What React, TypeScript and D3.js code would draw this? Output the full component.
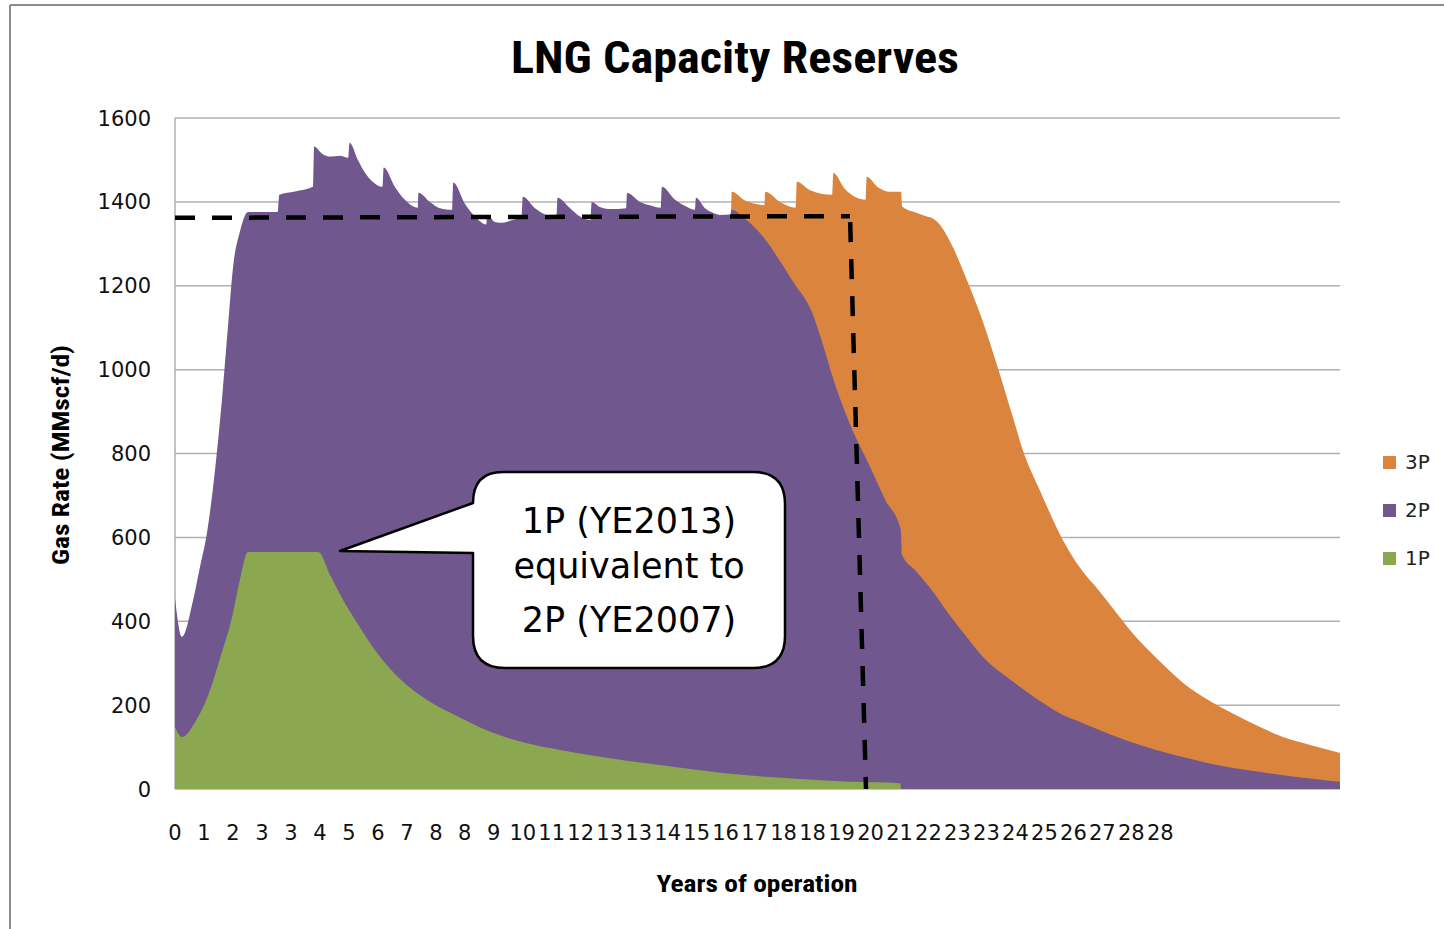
import * as d3 from "d3";

// x in years of operation, y in MMscf/d
const yTicks = [0, 200, 400, 600, 800, 1000, 1200, 1400, 1600];
// category labels, one every 10 months
const xTickLabels = ["0", "1", "2", "3", "3", "4", "5", "6", "7", "8", "8", "9", "10", "11", "12", "13", "13", "14",
  "15", "16", "17", "18", "18", "19", "20", "21", "22", "23", "23", "24", "25", "26", "27", "28", "28"];

const years2P = [0, 0.2, 0.52, 0.72, 0.92, 1.15, 1.35, 1.52, 1.67, 1.87, 2.1, 2.95, 3.0, 3.45, 3.97, 4.0, 4.23, 4.46,
  4.74, 4.98, 5.02, 5.26, 5.46, 5.66, 5.97, 6.0, 6.33, 6.61, 6.98, 7.0, 7.33, 7.62, 7.97, 8.0, 8.34, 8.63, 8.95, 8.98,
  9.2, 9.43, 9.63, 9.97, 10.0, 10.35, 10.64, 10.97, 11.0, 11.36, 11.65, 11.95, 11.98, 12.22, 12.51, 12.97, 13.0, 13.37,
  13.66, 13.97, 14.0, 14.38, 14.67, 14.95, 14.98, 15.24, 15.44, 15.67, 15.97, 16.0, 16.39, 16.82, 17.31, 17.77, 18.35,
  18.63, 18.92, 19.41, 19.99, 20.42, 20.87, 20.9, 21.28, 21.8, 22.29, 22.77, 23.29, 23.92, 24.44, 24.96, 25.45, 26.11,
  26.6, 27.09, 27.75, 28.53, 29.19, 29.96, 30.91, 31.86, 32.64, 33.5];
const rate2P = [455, 363, 450, 530, 611, 760, 928, 1100, 1245, 1330, 1376, 1376, 1417, 1425, 1436, 1532, 1515, 1508,
  1510, 1505, 1541, 1500, 1470, 1450, 1436, 1482, 1435, 1405, 1386, 1422, 1400, 1385, 1381, 1446, 1395, 1365, 1346, 1370,
  1352, 1350, 1355, 1365, 1412, 1385, 1370, 1362, 1410, 1385, 1365, 1357, 1400, 1388, 1383, 1385, 1421, 1400,
  1392, 1386, 1436, 1405, 1390, 1381, 1410, 1385, 1375, 1369, 1370, 1381, 1360, 1326, 1270, 1210, 1130,
  1060, 980, 870, 768, 690, 618, 560, 522, 470, 413, 362, 310, 267, 235, 205, 180, 157,
  140, 124, 105, 86, 72, 57, 44, 33, 25, 17];

const years3P = [15.99, 16.01, 16.39, 16.82, 16.95, 16.97, 17.4, 17.85, 17.88, 18.26, 18.9, 18.93, 19.27, 19.86, 19.89,
  20.21, 20.56, 20.88, 20.91, 21.28, 21.62, 21.8, 22.0, 22.29, 22.77, 23.23, 23.64, 24.1, 24.38, 24.87, 25.53, 26.02,
  26.6, 27.09, 27.55, 28.27, 28.99, 29.7, 30.42, 31.14, 31.86, 32.64, 33.5];
const rate3P = [1370, 1424, 1403, 1393, 1392, 1424, 1400, 1386, 1448, 1428, 1417, 1469, 1430, 1405, 1460,
  1435, 1424, 1424, 1389, 1375, 1365, 1360, 1345, 1305, 1214, 1115, 1010, 885, 808, 712, 594, 528,
  470, 418, 370, 308, 253, 213, 180, 150, 124, 105, 86];

const years1P = [0, 0.2, 0.58, 1.01, 1.29, 1.64, 1.87, 2.1, 4.12, 4.46, 4.83, 5.32, 5.81, 6.47, 7.25, 8.2, 9.14, 10.06,
  11.07, 12.22, 13.66, 15.1, 16.53, 17.97, 19.41, 20.85, 20.88];
const rate1P = [148, 124, 160, 236, 310, 410, 500, 565, 565, 510, 451, 385, 324, 262, 212, 170, 134, 110,
  93, 77, 60, 45, 32, 24, 17, 14, 0];

// dashed guide: plateau rate to end of plateau
const guideYears = [0, 19.41, 19.87];
const guideRates = [1362, 1366, 0];

const series = [
  { name: "3P", color: "#db843d", years: years3P, rates: rate3P },
  { name: "2P", color: "#70588f", years: years2P, rates: rate2P },
  { name: "1P", color: "#8ba74f", years: years1P, rates: rate1P },
];

const titleFont = "'Liberation Sans Narrow', 'Roboto Condensed', 'Noto Sans', sans-serif";
const bodyFont = "'DejaVu Sans', Verdana, sans-serif";

export default function App() {
  const left = 175, right = 1340, top = 118, bottom = 789;
  const x = d3.scaleLinear().domain([0, 33.5]).range([left, right]);
  const y = d3.scaleLinear().domain([0, 1600]).range([bottom, top]);

  const area = d3.area<[number, number]>()
    .x((d) => x(d[0]))
    .y0(y(0))
    .y1((d) => y(d[1]))
    .curve(d3.curveMonotoneX);

  const guide = d3.line<[number, number]>()
    .x((d) => x(d[0]))
    .y((d) => y(d[1]));

  const guidePts = guideYears.map((g, i) => [g, guideRates[i]] as [number, number]);

  return (
    <div style={{ position: "absolute", left: 0, top: 0 }}>
      <svg width={1444} height={929} style={{ display: "block", background: "#fff" }}>
        {/* outer frame */}
        <line x1={10} x2={1444} y1={5} y2={5} stroke="#8c8c8c" strokeWidth={2} />
        <line x1={10} x2={10} y1={5} y2={929} stroke="#8c8c8c" strokeWidth={2} />

        <text x={735} y={73} textAnchor="middle" fontFamily={titleFont} fontWeight={700} fontSize={44}
          textLength={448} lengthAdjust="spacingAndGlyphs">LNG Capacity Reserves</text>

        {/* grid */}
        {yTicks.map((t) => (
          <line key={t} x1={left} x2={right} y1={y(t)} y2={y(t)} stroke="#b0b0b0" strokeWidth={1.5} />
        ))}
        <line x1={left} x2={left} y1={top} y2={bottom} stroke="#b0b0b0" strokeWidth={1.5} />

        {series.map((s) => (
          <path key={s.name} d={area(s.years.map((yr, i) => [yr, s.rates[i]] as [number, number])) || ""} fill={s.color} />
        ))}

        <path d={guide(guidePts.slice(0, 2)) || ""} fill="none" stroke="#000" strokeWidth={4.5} strokeDasharray="20 17" />
        <path d={guide(guidePts.slice(1)) || ""} fill="none" stroke="#000" strokeWidth={4.5} strokeDasharray="20 17" strokeDashoffset={-6} />

        {/* y ticks */}
        {yTicks.map((t) => (
          <text key={t} x={151} y={y(t)} dy="0.36em" textAnchor="end" fontFamily={bodyFont} fontSize={21} fill="#111">{t}</text>
        ))}
        {/* x ticks */}
        {xTickLabels.map((l, i) => (
          <text key={i} x={x((i * 10) / 12)} y={840} textAnchor="middle" fontFamily={bodyFont} fontSize={21} fill="#111">{l}</text>
        ))}

        <text x={757} y={892} textAnchor="middle" fontFamily={titleFont} fontWeight={700} fontSize={23}
          textLength={201} lengthAdjust="spacingAndGlyphs">Years of operation</text>
        <text transform="translate(69,455) rotate(-90)" textAnchor="middle" fontFamily={titleFont} fontWeight={700}
          fontSize={23} textLength={220} lengthAdjust="spacingAndGlyphs">Gas Rate (MMscf/d)</text>

        {/* callout */}
        <path
          d="M503,472 H753 Q785,472 785,504 V636 Q785,668 753,668 H505 Q473,668 473,636 V553 L340,551 L473,503 Q473,472 503,472 Z"
          fill="#fff" stroke="#000" strokeWidth={2.5} strokeLinejoin="round" />
        <text x={629} y={533} textAnchor="middle" fontFamily={bodyFont} fontSize={35}>1P (YE2013)</text>
        <text x={629} y={578} textAnchor="middle" fontFamily={bodyFont} fontSize={35}>equivalent to</text>
        <text x={629} y={632} textAnchor="middle" fontFamily={bodyFont} fontSize={35}>2P (YE2007)</text>

        {/* legend */}
        {series.map((s, i) => (
          <g key={s.name} transform={`translate(1383,${456 + i * 48})`}>
            <rect width={13} height={13} fill={s.color} />
            <text x={22} y={13} fontFamily={bodyFont} fontSize={20} fill="#222">{s.name}</text>
          </g>
        ))}
      </svg>
    </div>
  );
}
